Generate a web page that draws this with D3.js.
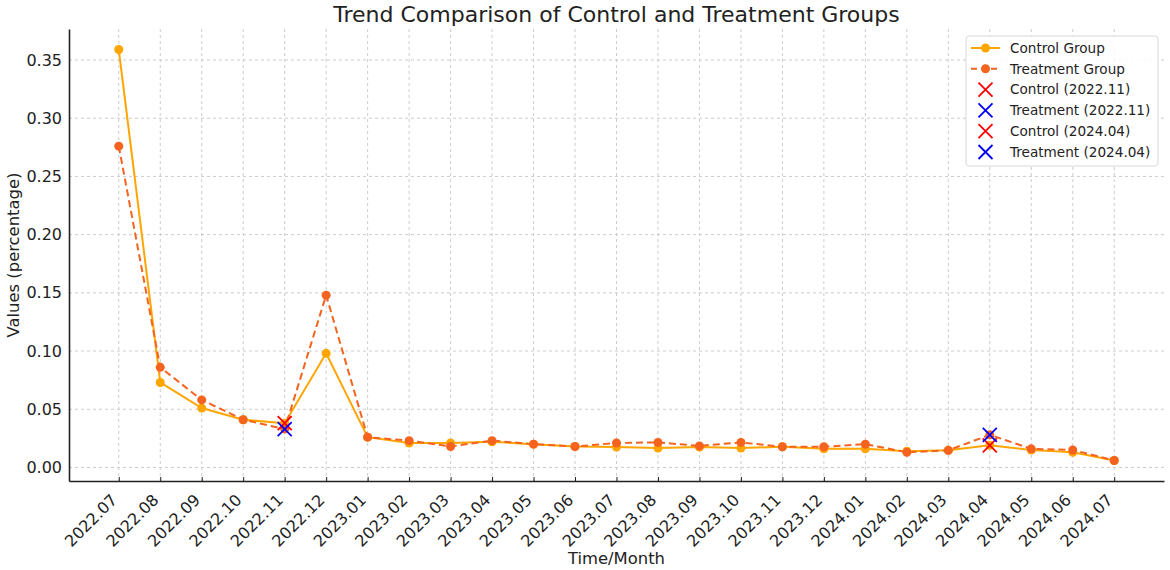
<!DOCTYPE html>
<html>
<head>
<meta charset="utf-8">
<title>Trend Comparison</title>
<script src="https://d3js.org/d3.v7.min.js"></script>
<style>
body { margin:0; background:#fff; }
text { font-family: "DejaVu Sans", sans-serif; fill:#222; }
</style>
</head>
<body>
<svg id="chart" width="1170" height="570"></svg>
<script>
// data
var months = ["2022.07","2022.08","2022.09","2022.10","2022.11","2022.12",
  "2023.01","2023.02","2023.03","2023.04","2023.05","2023.06","2023.07","2023.08",
  "2023.09","2023.10","2023.11","2023.12","2024.01","2024.02","2024.03","2024.04",
  "2024.05","2024.06","2024.07"];
var control = [0.359,0.073,0.051,0.041,0.038,0.098,0.026,0.021,0.021,0.022,0.020,0.018,
  0.0175,0.0166,0.0175,0.0166,0.0178,0.016,0.016,0.014,0.0147,0.019,0.015,0.013,0.006];
var treatment = [0.276,0.086,0.058,0.041,0.033,0.148,0.026,0.023,0.018,0.023,0.020,0.018,
  0.021,0.0215,0.0185,0.0215,0.0178,0.0178,0.020,0.013,0.0147,0.028,0.016,0.015,0.006];
var yTicks = [0,0.05,0.10,0.15,0.20,0.25,0.30,0.35];
var highlights = [
  {label:"Control (2022.11)", month:"2022.11", series:"control", color:"#ff0000"},
  {label:"Treatment (2022.11)", month:"2022.11", series:"treatment", color:"#0000ff"},
  {label:"Control (2024.04)", month:"2024.04", series:"control", color:"#ff0000"},
  {label:"Treatment (2024.04)", month:"2024.04", series:"treatment", color:"#0000ff"}
];

var cControl = "#ffa500", cTreat = "#f5631f";
var svg = d3.select("#chart");
var mLeft = 69, mRight = 1164, mTop = 29, mBottom = 481;

var idx = d3.range(months.length);
var x = d3.scaleLinear().domain([-1.2, months.length - 1 + 1.2]).range([mLeft, mRight]);
var lo = d3.min(control.concat(treatment)), hi = d3.max(control.concat(treatment));
var pad = (hi - lo) * 0.05;
var y = d3.scaleLinear().domain([lo - pad, hi + pad]).range([mBottom, mTop]);

// grid
var grid = svg.append("g").attr("stroke","#cccccc").attr("stroke-width",1).attr("stroke-dasharray","3,3");
grid.selectAll(".gx").data(idx).enter().append("line")
  .attr("x1", function(d){return x(d);}).attr("x2", function(d){return x(d);})
  .attr("y1", mTop).attr("y2", mBottom);
grid.selectAll(".gy").data(yTicks).enter().append("line")
  .attr("x1", mLeft).attr("x2", mRight)
  .attr("y1", function(d){return y(d);}).attr("y2", function(d){return y(d);});

// axes
var xAxis = d3.axisBottom(x).tickValues(idx).tickFormat(function(d){return months[d];}).tickSize(0).tickPadding(8);
var gx = svg.append("g").attr("transform","translate(0,"+mBottom+")").call(xAxis);
gx.select(".domain").attr("stroke","#222").attr("stroke-width",1.6);
gx.selectAll(".tick text")
  .attr("font-size",16)
  .attr("text-anchor","end")
  .attr("x",0).attr("y",0).attr("dy","0.35em")
  .attr("transform","translate(-5,16) rotate(-45)");
gx.selectAll(".tick").append("line").attr("y1",0).attr("y2",-4).attr("stroke","#222");

var yAxis = d3.axisLeft(y).tickValues(yTicks).tickFormat(d3.format(".2f")).tickSize(0).tickPadding(7);
var gy = svg.append("g").attr("transform","translate("+mLeft+",0)").call(yAxis);
gy.select(".domain").attr("stroke","#222").attr("stroke-width",1.6);
gy.selectAll(".tick text").attr("font-size",16);
svg.selectAll(".tick text").attr("font-family","DejaVu Sans, sans-serif").attr("fill","#222");

// lines
var line = d3.line().x(function(d,i){return x(i);}).y(function(d){return y(d);});
svg.append("path").datum(control).attr("d",line).attr("fill","none")
  .attr("stroke",cControl).attr("stroke-width",2);
svg.append("path").datum(treatment).attr("d",line).attr("fill","none")
  .attr("stroke",cTreat).attr("stroke-width",2).attr("stroke-dasharray","7,4");
svg.selectAll(".pc").data(control).enter().append("circle")
  .attr("cx",function(d,i){return x(i);}).attr("cy",function(d){return y(d);})
  .attr("r",4.5).attr("fill",cControl);
svg.selectAll(".pt").data(treatment).enter().append("circle")
  .attr("cx",function(d,i){return x(i);}).attr("cy",function(d){return y(d);})
  .attr("r",4.5).attr("fill",cTreat);

// X markers
function cross(g, cx, cy, s, col) {
  g.append("path").attr("d","M"+(cx-s)+","+(cy-s)+"L"+(cx+s)+","+(cy+s)+"M"+(cx-s)+","+(cy+s)+"L"+(cx+s)+","+(cy-s))
    .attr("stroke",col).attr("stroke-width",1.8).attr("fill","none");
}
var markG = svg.append("g");
highlights.forEach(function(h){
  var i = months.indexOf(h.month);
  var v = h.series == "control" ? control[i] : treatment[i];
  cross(markG, x(i), y(v), 7, h.color);
});

// legend
var lg = svg.append("g").attr("transform","translate(966,36)");
lg.append("rect").attr("width",192).attr("height",130).attr("rx",3)
  .attr("fill","#fff").attr("fill-opacity",0.85).attr("stroke","#d8d8d8");
var rowH = 20.8;
var items = [{label:"Control Group", type:"line", color:cControl, dash:null},
  {label:"Treatment Group", type:"line", color:cTreat, dash:"6,4"}]
  .concat(highlights.map(function(h){return {label:h.label, type:"x", color:h.color};}));
items.forEach(function(it, k){
  var cy = 12 + k*rowH;
  if (it.type == "line") {
    lg.append("line").attr("x1",5).attr("x2",34).attr("y1",cy).attr("y2",cy)
      .attr("stroke",it.color).attr("stroke-width",2).attr("stroke-dasharray",it.dash);
    lg.append("circle").attr("cx",19.5).attr("cy",cy).attr("r",4.5).attr("fill",it.color);
  } else {
    cross(lg, 19.5, cy, 7, it.color);
  }
  lg.append("text").attr("x",44).attr("y",cy).attr("dy","0.35em")
    .attr("font-size",13.6).text(it.label);
});

// titles
svg.append("text").attr("x",(mLeft+mRight)/2).attr("y",22).attr("text-anchor","middle")
  .attr("font-size",22).text("Trend Comparison of Control and Treatment Groups");
svg.append("text").attr("x",(mLeft+mRight)/2).attr("y",564).attr("text-anchor","middle")
  .attr("font-size",16.4).text("Time/Month");
svg.append("text").attr("transform","translate(19,"+((mTop+mBottom)/2)+") rotate(-90)")
  .attr("text-anchor","middle").attr("font-size",16.4).text("Values (percentage)");
</script>
</body>
</html>
